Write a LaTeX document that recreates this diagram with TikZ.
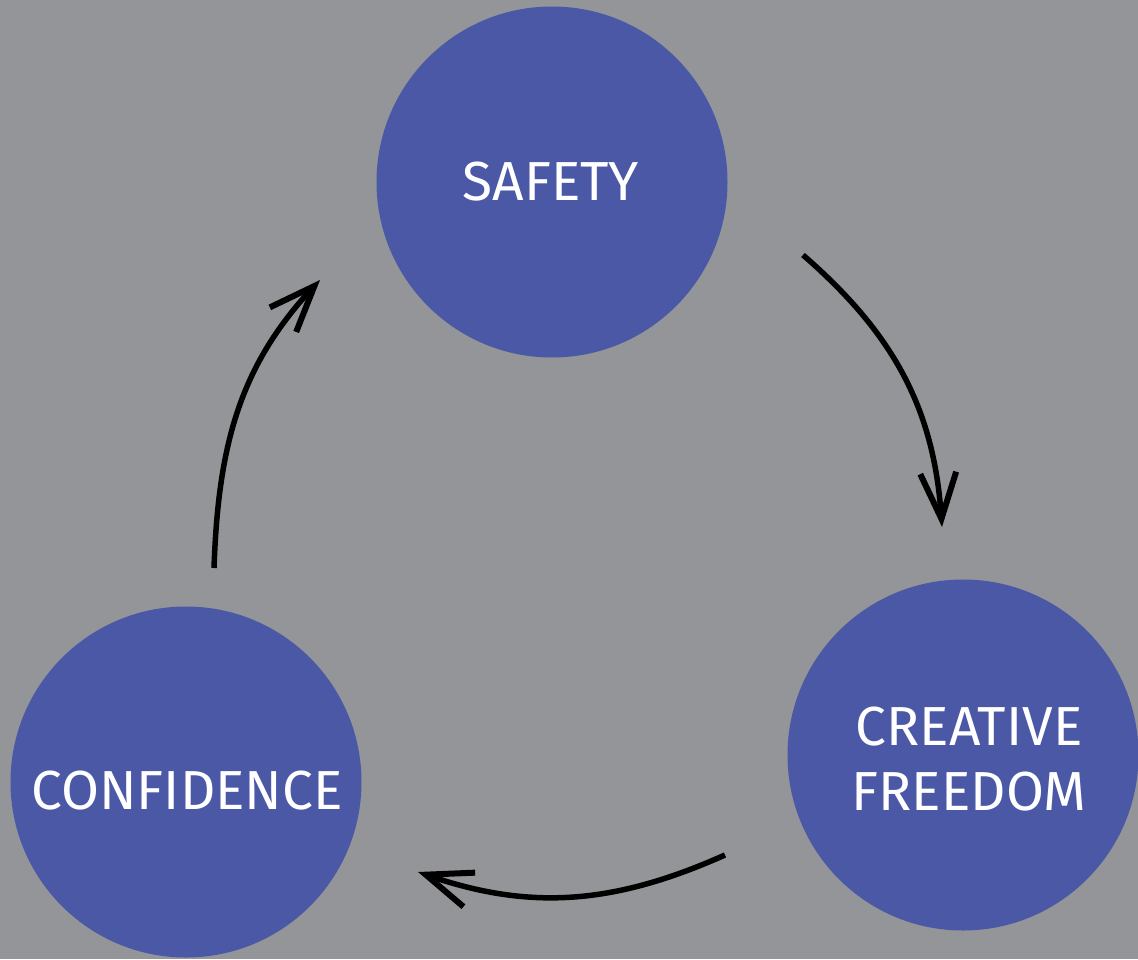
\documentclass[tikz,border=0pt]{standalone}
\usepackage{fontspec}
\setmainfont{Fira Sans}
\usetikzlibrary{arrows.meta,calc}
\definecolor{bggray}{RGB}{147,149,152}
\definecolor{bubbleblue}{RGB}{74,88,166}
\tikzset{
  bubble/.style={circle, fill=bubbleblue, draw=none, minimum size=351pt, inner sep=0pt},
  lbl/.style={text=white, font=\fontsize{55}{65}\selectfont, align=center, inner sep=0pt},
  cyc/.style={line width=5.5pt, draw=black,
    -{Straight Barb[length=46pt, width=36pt, line width=6pt]}}
}
\begin{document}
\begin{tikzpicture}[x=1pt,y=1pt]
  \fill[bggray] (0,0) rectangle (1138,-959);
  \useasboundingbox (0,0) rectangle (1138,-959);

  \node[bubble] (safety) at (552,-182) {};
  \node[bubble] (creative) at (963,-755) {};
  \node[bubble] (confidence) at (186,-782) {};

  \node[lbl] (safetyText) at (551,-182) {SAFETY};
  \node[lbl] (creativeText) at (969,-759) {CREATIVE\\FREEDOM};
  \node[lbl] (confidenceText) at (187,-791) {CONFIDENCE};

  \coordinate (a1s) at (803,-255);
  \coordinate (a1e) at (942,-527);
  \coordinate (a2s) at (725,-855);
  \coordinate (a2e) at (418,-872);
  \coordinate (a3s) at (214,-568);
  \coordinate (a3e) at (320,-280);

  \draw[cyc] (a1s) to[out=-41, in=94] (a1e);
  \draw[cyc] (a2s) to[out=204, in=-19] (a2e);
  \draw[cyc] (a3s) to[out=88, in=227] (a3e);
\end{tikzpicture}
\end{document}
